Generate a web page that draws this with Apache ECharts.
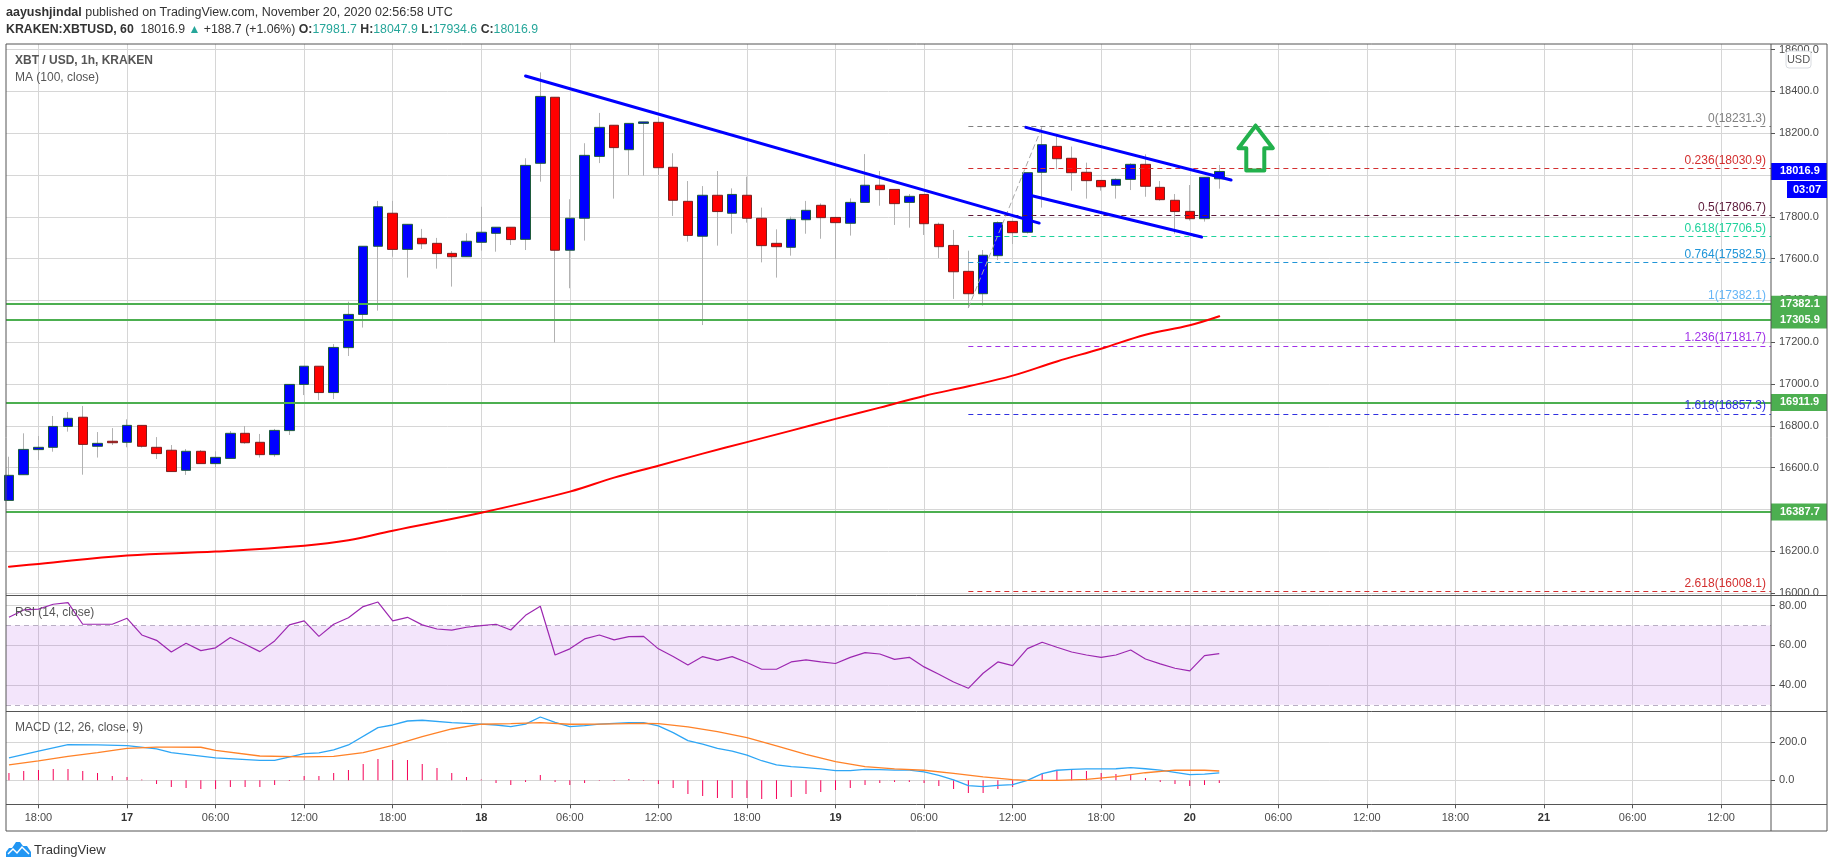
<!DOCTYPE html>
<html>
<head>
<meta charset="utf-8">
<style>html,body{margin:0;padding:0;background:#fff}#chart-container{width:1828px;height:868px}</style>
<script src="https://cdn.jsdelivr.net/npm/echarts@6/dist/echarts.min.js"></script>
</head>
<body>
<div id="chart-container"></div>
<script>
// hours counted from Nov 16 18:00, one candle an hour
var hours = [-2,-1,0,1,2,3,4,5,6,7,8,9,10,11,12,13,14,15,16,17,18,19,20,21,22,23,24,25,26,27,28,29,30,31,32,33,34,35,36,37,38,39,40,41,42,43,44,45,46,47,48,49,50,51,52,53,54,55,56,57,58,59,60,61,62,63,64,65,66,67,68,69,70,71,72,73,74,75,76,77,78,79,80];
var opens = [16443,16566,16686,16697,16797,16841,16702,16726,16721,16802,16697,16683,16587,16678,16619,16644,16764,16721,16662,16777,16998,17085,16959,17174,17333,17659,17817,17644,17697,17673,17625,17609,17678,17721,17750,17692,18056,18372,17640,17793,18089,18238,18121,18247,18252,18037,17874,17707,17903,17817,17903,17793,17673,17654,17786,17855,17797,17769,17869,17951,17931,17869,17907,17764,17663,17539,17432,17614,17778,17726,18013,18137,18080,18013,17974,17951,17979,18051,17941,17879,17826,17791,17981.7];
var closes = [16563,16687,16697,16797,16836,16711,16716,16719,16802,16702,16667,16581,16678,16619,16649,16764,16719,16662,16778,16998,17085,16959,17175,17333,17659,17848,17644,17764,17671,17624,17609,17683,17726,17750,17691,18046,18376,17640,17793,18094,18228,18131,18247,18254,18035,17879,17711,17903,17825,17907,17793,17662,17657,17788,17831,17796,17772,17869,17951,17930,17863,17898,17767,17657,17537,17432,17616,17772,17724,18011,18145,18078,18011,17973,17944,17979,18051,17946,17882,17825,17791,17989,18016.9];
var lows = [16443,16566,16636,16676,16772,16566,16648,16708,16697,16696,16641,16581,16565,16619,16600,16644,16714,16648,16652,16756,16947,16923,16928,17134,17270,17351,17609,17509,17646,17552,17466,17609,17638,17633,17665,17641,17968,17199,17458,17686,18057,17887,18000,17997,18000,17804,17681,17282,17662,17719,17772,17582,17509,17614,17719,17695,17598,17710,17869,17853,17761,17748,17713,17603,17407,17365,17375,17593,17670,17720,17844,18027,17925,17887,17925,17887,17928,17896,17877,17719,17782,17777,17934.6];
var highs = [16652,16764,16751,16847,16866,16895,16770,16789,16831,16802,16746,16708,16689,16684,16678,16775,16799,16761,16785,16998,17085,17085,17191,17394,17659,17876,17876,17764,17742,17699,17636,17721,17848,17750,17750,18080,18491,18372,17884,18152,18297,18238,18247,18254,18276,18104,17971,17947,18019,17936,17992,17844,17740,17801,17876,17864,17800,17888,18100,18019,17931,17909,17907,17772,17737,17638,17641,17778,17778,18011,18228,18191,18136,18059,17974,17984,18056,18099,17971,17909,17952,17989,18047.9];

var maHours = [-2,0,6,12,18,21,24,30,36,39,42,45,48,51,54,57,60,63,66,69,72,75,78,80];
var maValues = [16126,16139,16179,16198,16226,16252,16298,16384,16485,16552,16609,16667,16722,16777,16833,16887,16943,16989,17040,17108,17169,17236,17281,17324];

var rsiValues = [74.1,77.8,78.2,80.7,81.5,70.6,70.6,70.6,73.6,65.2,62.5,56.6,61.0,57.3,58.7,63.9,60.5,56.8,62.2,70.3,72.3,64.5,70.6,73.9,79.5,81.8,72.3,74.1,70.3,68.2,67.6,69.1,69.9,70.6,67.7,75.1,79.7,55.1,58.2,63.2,65.2,62.7,64.4,64.5,58.2,54.3,50.1,54.3,52.4,54.3,51.3,47.9,47.9,51.6,52.6,51.6,50.8,53.9,56.3,55.6,52.9,53.9,49.1,45.4,41.5,38.3,45.9,51.6,49.7,58.3,61.5,59.0,56.6,55.1,53.9,55.1,57.6,53.1,50.6,48.4,47.1,54.8,55.8];

var macdHist = [39,49,54,60,60,49,39,23,18,4,-19,-35,-40,-46,-46,-35,-35,-35,-25,-4,23,23,39,54,86,112,107,107,86,65,39,18,5,-14,-25,-9,28,-9,-25,-14,-2,-4,7,-2,-19,-40,-72,-82,-93,-93,-93,-98,-98,-88,-72,-61,-51,-40,-25,-14,-9,-9,-14,-30,-46,-67,-67,-46,-35,-2,33,49,60,49,39,33,28,12,-9,-19,-30,-25,-14];
var macdHours = [-2,0,2,4,6,8,9,12,15,16,18,19,20,21,23,24,25,26,28,30,31,32,33,34,35,36,37,38,40,41,42,43,44,45,46,47,48,49,50,51,52,53,54,55,56,57,58,59,60,61,62,63,64,65,66,67,68,69,70,71,72,73,74,75,76,77,78,79,80];
var macdLine = [118,153,188,186,182,165,146,118,105,105,140,144,160,186,277,291,312,316,303,296,291,282,296,333,305,282,288,296,303,303,286,251,209,191,168,154,133,103,81,72,67,60,51,51,58,56,54,54,44,26,2,-28,-33,-26,-23,0,35,53,58,60,60,61,67,61,54,42,30,33,39];
var signalHours = [-2,0,2,4,6,8,9,11,12,15,18,20,22,24,26,28,30,32,34,36,38,41,42,44,46,48,50,52,54,56,58,60,62,64,66,67,69,71,73,75,77,79,80];
var signalLine = [81,102,126,146,168,175,175,174,158,128,123,126,146,184,230,270,295,298,303,295,296,300,298,281,256,225,181,137,98,72,60,53,37,18,4,0,0,5,19,40,54,53,49];

var xTickHours = [0,6,12,18,24,30,36,42,48,54,60,66,72,78,84,90,96,102,108,114];
var xTickLabels = ["18:00","17","06:00","12:00","18:00","18","06:00","12:00","18:00","19","06:00","12:00","18:00","20","06:00","12:00","18:00","21","06:00","12:00"];
var priceTicks = [16000,16200,16400,16600,16800,17000,17200,17400,17600,17800,18000,18200,18400,18600];
var rsiTicks = [40,60,80];
var macdTicks = [0,200];

var supportLevels = [17382.1,17305.9,16911.9,16387.7];
var fibRatios = ["0","0.236","0.5","0.618","0.764","1","1.236","1.618","2.618"];
var fibValues = [18231.3,18030.9,17806.7,17706.5,17582.5,17382.1,17181.7,16857.3,16008.1];
var fibColors = ["#808080","#d32f2f","#5d1a3a","#1fd29c","#2196d8","#64b5f6","#a030e8","#3030e0","#d32f2f"];

var trendLines = [
  [[33,18474],[67.8,17770]],
  [[66.9,18228],[80.8,17976]],
  [[67.1,17904],[78.8,17703]]
];
var fibTrend = [[63,17365],[68,18231.3]];
var arrowPoints = [[82.46,18236],[83.63,18128],[83.05,18128],[83.05,18021],[81.83,18021],[81.83,18128],[81.3,18128],[82.46,18236]];

var dom = document.getElementById("chart-container");
var myChart = echarts.init(dom, null, { renderer: "canvas" });

var fontName = '"Liberation Sans", Arial, sans-serif';
var gridLineColor = "#d6d6d6";
var axisTextColor = "#4a4a4a";
var xMin = -2.2;
var xMax = 117.38;

function zip(xs, ys) {
  return xs.map(function (x, i) {
    return [x, ys[i]];
  });
}

function xAxisFor(index, showLabels) {
  return {
    type: "value",
    gridIndex: index,
    min: xMin,
    max: xMax,
    axisLine: { show: false, onZero: false },
    axisTick: { show: showLabels, length: 4, lineStyle: { color: "#555" }, customValues: xTickHours },
    splitLine: { show: true, lineStyle: { color: gridLineColor } },
    axisLabel: {
      show: showLabels,
      customValues: xTickHours,
      margin: 8,
      fontSize: 11,
      fontFamily: fontName,
      color: axisTextColor,
      formatter: function (v) {
        var t = xTickLabels[xTickHours.indexOf(v)];
        return t.length < 3 ? "{d|" + t + "}" : t;
      },
      rich: { d: { fontWeight: "bold", fontSize: 11, fontFamily: fontName, color: "#333" } },
    },
  };
}

function yAxisFor(index, lo, hi, ticks, digits) {
  return {
    type: "value",
    gridIndex: index,
    position: "right",
    min: lo,
    max: hi,
    axisLine: { show: false, onZero: false },
    axisTick: { show: true, length: 4, lineStyle: { color: "#555" }, customValues: ticks },
    splitLine: { show: true, lineStyle: { color: gridLineColor } },
    axisLabel: {
      customValues: ticks,
      margin: 8,
      fontSize: 11,
      fontFamily: fontName,
      color: axisTextColor,
      formatter: function (v) {
        return v.toFixed(digits);
      },
    },
  };
}

function lineOn(name, data, color, width, z, dash) {
  return {
    name: name,
    type: "line",
    xAxisIndex: 0,
    yAxisIndex: 0,
    data: data,
    showSymbol: false,
    silent: true,
    z: z,
    lineStyle: { color: color, width: width, type: dash || "solid", cap: "round", join: "round" },
  };
}

function paneText(text, x, y, bold) {
  return {
    type: "text",
    z: 100,
    style: {
      text: text,
      x: x,
      y: y,
      fill: "#555",
      font: (bold ? "bold " : "") + "12px " + fontName,
      verticalAlign: "middle",
    },
  };
}

var maSeries = lineOn("MA (100, close)", zip(maHours, maValues), "#ff0000", 2, 5);
maSeries.smooth = 0.4;

var series = [
  // wicks, gray, behind the bodies
  {
    name: "wicks",
    type: "candlestick",
    xAxisIndex: 0,
    yAxisIndex: 0,
    barWidth: 1,
    z: 3,
    silent: true,
    itemStyle: { color: "#b2b2b2", color0: "#b2b2b2", borderColor: "#b2b2b2", borderColor0: "#b2b2b2", borderWidth: 1 },
    data: hours.map(function (h, i) {
      return [h, opens[i], closes[i], lows[i], highs[i]];
    }),
  },
  {
    name: "XBT / USD",
    type: "candlestick",
    xAxisIndex: 0,
    yAxisIndex: 0,
    barWidth: 10,
    z: 4,
    silent: true,
    itemStyle: { color: "#0000ff", color0: "#ff0000", borderColor: "#1f5c3c", borderColor0: "#7a1f1f", borderWidth: 1 },
    data: hours.map(function (h, i) {
      return [h, opens[i], closes[i], Math.min(opens[i], closes[i]), Math.max(opens[i], closes[i])];
    }),
  },
  maSeries,
  lineOn("fib trend", fibTrend, "#a8a8a8", 1, 5, [5, 4]),
  {
    name: "fib levels",
    type: "line",
    xAxisIndex: 0,
    yAxisIndex: 0,
    data: [],
    z: 5,
    silent: true,
    markLine: {
      silent: true,
      symbol: "none",
      animation: false,
      data: fibValues.map(function (v, i) {
        var style = { color: fibColors[i], width: 1, type: [5, 4] };
        var label = {
          show: true,
          position: "insideEndTop",
          distance: [5, 2],
          formatter: fibRatios[i] + "(" + v.toFixed(1) + ")",
          color: fibColors[i],
          fontSize: 12,
          fontFamily: fontName,
        };
        return [
          { coord: [63, v], lineStyle: style, label: label },
          { coord: [xMax, v] },
        ];
      }),
    },
  },
  {
    name: "support levels",
    type: "line",
    xAxisIndex: 0,
    yAxisIndex: 0,
    data: [],
    z: 6,
    silent: true,
    markLine: {
      silent: true,
      symbol: "none",
      animation: false,
      lineStyle: { color: "#4caf50", width: 2, type: "solid" },
      label: {
        show: true,
        position: "end",
        distance: 0,
        color: "#fff",
        fontWeight: "bold",
        fontSize: 11,
        fontFamily: fontName,
        backgroundColor: "#4caf50",
        padding: [2, 0, 2, 9],
        width: 47,
        lineHeight: 13,
        formatter: function (p) {
          return p.value.toFixed(1);
        },
      },
      data: supportLevels.map(function (v) {
        return { yAxis: v };
      }),
    },
  },
  lineOn("trend 1", trendLines[0], "#0000ff", 3, 7),
  lineOn("trend 2", trendLines[1], "#0000ff", 3, 7),
  lineOn("trend 3", trendLines[2], "#0000ff", 3, 7),
  lineOn("arrow", arrowPoints, "#22b14c", 4, 7),
  {
    name: "last price",
    type: "line",
    xAxisIndex: 0,
    yAxisIndex: 0,
    data: [],
    z: 8,
    silent: true,
    markLine: {
      silent: true,
      symbol: "none",
      animation: false,
      lineStyle: { color: "rgba(0,0,0,0)", width: 0 },
      label: {
        show: true,
        position: "end",
        distance: 0,
        color: "#fff",
        fontWeight: "bold",
        fontSize: 11,
        fontFamily: fontName,
        backgroundColor: "#0000ff",
        padding: [2, 0, 2, 9],
        width: 47,
        lineHeight: 13,
        formatter: function (p) {
          return p.value.toFixed(1);
        },
      },
      data: [{ yAxis: closes[closes.length - 1] }],
    },
  },
  {
    name: "RSI (14, close)",
    type: "line",
    xAxisIndex: 1,
    yAxisIndex: 1,
    data: zip(hours, rsiValues),
    showSymbol: false,
    silent: true,
    z: 5,
    lineStyle: { color: "#9c27b0", width: 1.2 },
    markArea: {
      silent: true,
      animation: false,
      itemStyle: { color: "rgba(156,39,220,0.12)" },
      data: [[{ coord: [xMin, 70] }, { coord: [xMax, 30] }]],
    },
    markLine: {
      silent: true,
      symbol: "none",
      animation: false,
      label: { show: false },
      lineStyle: { color: "#b9aec4", width: 1, type: [5, 4] },
      data: [{ yAxis: 70 }, { yAxis: 30 }],
    },
  },
  {
    name: "histogram",
    type: "bar",
    xAxisIndex: 2,
    yAxisIndex: 2,
    barWidth: 1,
    silent: true,
    itemStyle: { color: "#f50057" },
    data: zip(hours, macdHist),
  },
  {
    name: "MACD",
    type: "line",
    xAxisIndex: 2,
    yAxisIndex: 2,
    data: zip(macdHours, macdLine),
    showSymbol: false,
    silent: true,
    z: 5,
    lineStyle: { color: "#2ea6f5", width: 1.3 },
  },
  {
    name: "Signal",
    type: "line",
    xAxisIndex: 2,
    yAxisIndex: 2,
    data: zip(signalHours, signalLine),
    showSymbol: false,
    silent: true,
    z: 6,
    lineStyle: { color: "#ff8228", width: 1.3 },
  },
];

var option = {
  animation: false,
  backgroundColor: "#fff",
  grid: [
    { left: 6, right: 57, top: 44, height: 551 },
    { left: 6, right: 57, top: 595.3, height: 116 },
    { left: 6, right: 57, top: 711.3, height: 93 },
  ],
  xAxis: [xAxisFor(0, false), xAxisFor(1, false), xAxisFor(2, true)],
  yAxis: [
    yAxisFor(0, 15990.4, 18626.8, priceTicks, 1),
    yAxisFor(1, 26.7, 85.2, rsiTicks, 2),
    yAxisFor(2, -126, 363, macdTicks, 1),
  ],
  series: series,
  graphic: [
    {
      type: "text",
      z: 100,
      style: {
        text: "{b|aayushjindal} published on TradingView.com, November 20, 2020 02:56:58 UTC",
        x: 6,
        y: 13,
        fill: "#333",
        font: "12.5px " + fontName,
        verticalAlign: "middle",
        rich: { b: { fontWeight: "bold", fontSize: 12.5, fontFamily: fontName, fill: "#333" } },
      },
    },
    {
      type: "text",
      z: 100,
      style: {
        text: "{b|KRAKEN:XBTUSD, 60}  18016.9 {t|▲} +188.7 (+1.06%) {b|O:}{v|17981.7} {b|H:}{v|18047.9} {b|L:}{v|17934.6} {b|C:}{v|18016.9}",
        x: 6,
        y: 30,
        fill: "#333",
        font: "12.3px " + fontName,
        verticalAlign: "middle",
        rich: {
          b: { fontWeight: "bold", fontSize: 12.3, fontFamily: fontName, fill: "#333" },
          v: { fontSize: 12.3, fontFamily: fontName, fill: "#26a69a" },
          t: { fontSize: 12, fontFamily: fontName, fill: "#26a69a" },
        },
      },
    },
    paneText("XBT / USD, 1h, KRAKEN", 15, 61, true),
    paneText("MA (100, close)", 15, 78, false),
    paneText("RSI (14, close)", 15, 613, false),
    paneText("MACD (12, 26, close, 9)", 15, 728, false),
    // outer frame and the axis strips
    { type: "rect", z: 90, silent: true, shape: { x: 6, y: 44, width: 1821, height: 787 }, style: { fill: "none", stroke: "#555", lineWidth: 1 } },
    { type: "line", z: 90, silent: true, shape: { x1: 6, y1: 595.5, x2: 1827, y2: 595.5 }, style: { stroke: "#555", lineWidth: 1 } },
    { type: "line", z: 90, silent: true, shape: { x1: 6, y1: 711.5, x2: 1827, y2: 711.5 }, style: { stroke: "#555", lineWidth: 1 } },
    { type: "line", z: 90, silent: true, shape: { x1: 6, y1: 804.5, x2: 1827, y2: 804.5 }, style: { stroke: "#555", lineWidth: 1 } },
    { type: "line", z: 90, silent: true, shape: { x1: 1771, y1: 44, x2: 1771, y2: 831 }, style: { stroke: "#555", lineWidth: 1 } },
    // USD button over the top tick
    {
      type: "rect",
      z: 100,
      shape: { x: 1786, y: 51, width: 25, height: 17, r: 3 },
      style: { fill: "#fff", stroke: "#d8dbe0", lineWidth: 1 },
    },
    {
      type: "text",
      z: 101,
      style: { text: "USD", x: 1798.5, y: 59.5, fill: "#555", font: "11px " + fontName, align: "center", verticalAlign: "middle" },
    },
    // countdown under the last price
    { type: "rect", z: 100, shape: { x: 1787, y: 181, width: 40, height: 17 }, style: { fill: "#0000ff" } },
    {
      type: "text",
      z: 101,
      style: { text: "03:07", x: 1807, y: 189.5, fill: "#fff", font: "bold 11px " + fontName, align: "center", verticalAlign: "middle" },
    },
    // TradingView mark at the bottom
    {
      type: "polygon",
      z: 100,
      shape: { points: [[6, 852], [9, 848], [12, 848], [16, 842], [20, 842], [23, 846], [27, 846], [31, 852], [31, 857], [6, 857]] },
      style: { fill: "#2196f3" },
    },
    {
      type: "polyline",
      z: 101,
      shape: { points: [[8, 854], [13, 849], [17, 853], [22, 847], [29, 854]] },
      style: { stroke: "#fff", lineWidth: 1.5, fill: "none" },
    },
    {
      type: "text",
      z: 100,
      style: { text: "TradingView", x: 34, y: 850, fill: "#333", font: "13px " + fontName, verticalAlign: "middle" },
    },
  ],
};

myChart.setOption(option);
window.addEventListener("resize", myChart.resize);
</script>
</body>
</html>
